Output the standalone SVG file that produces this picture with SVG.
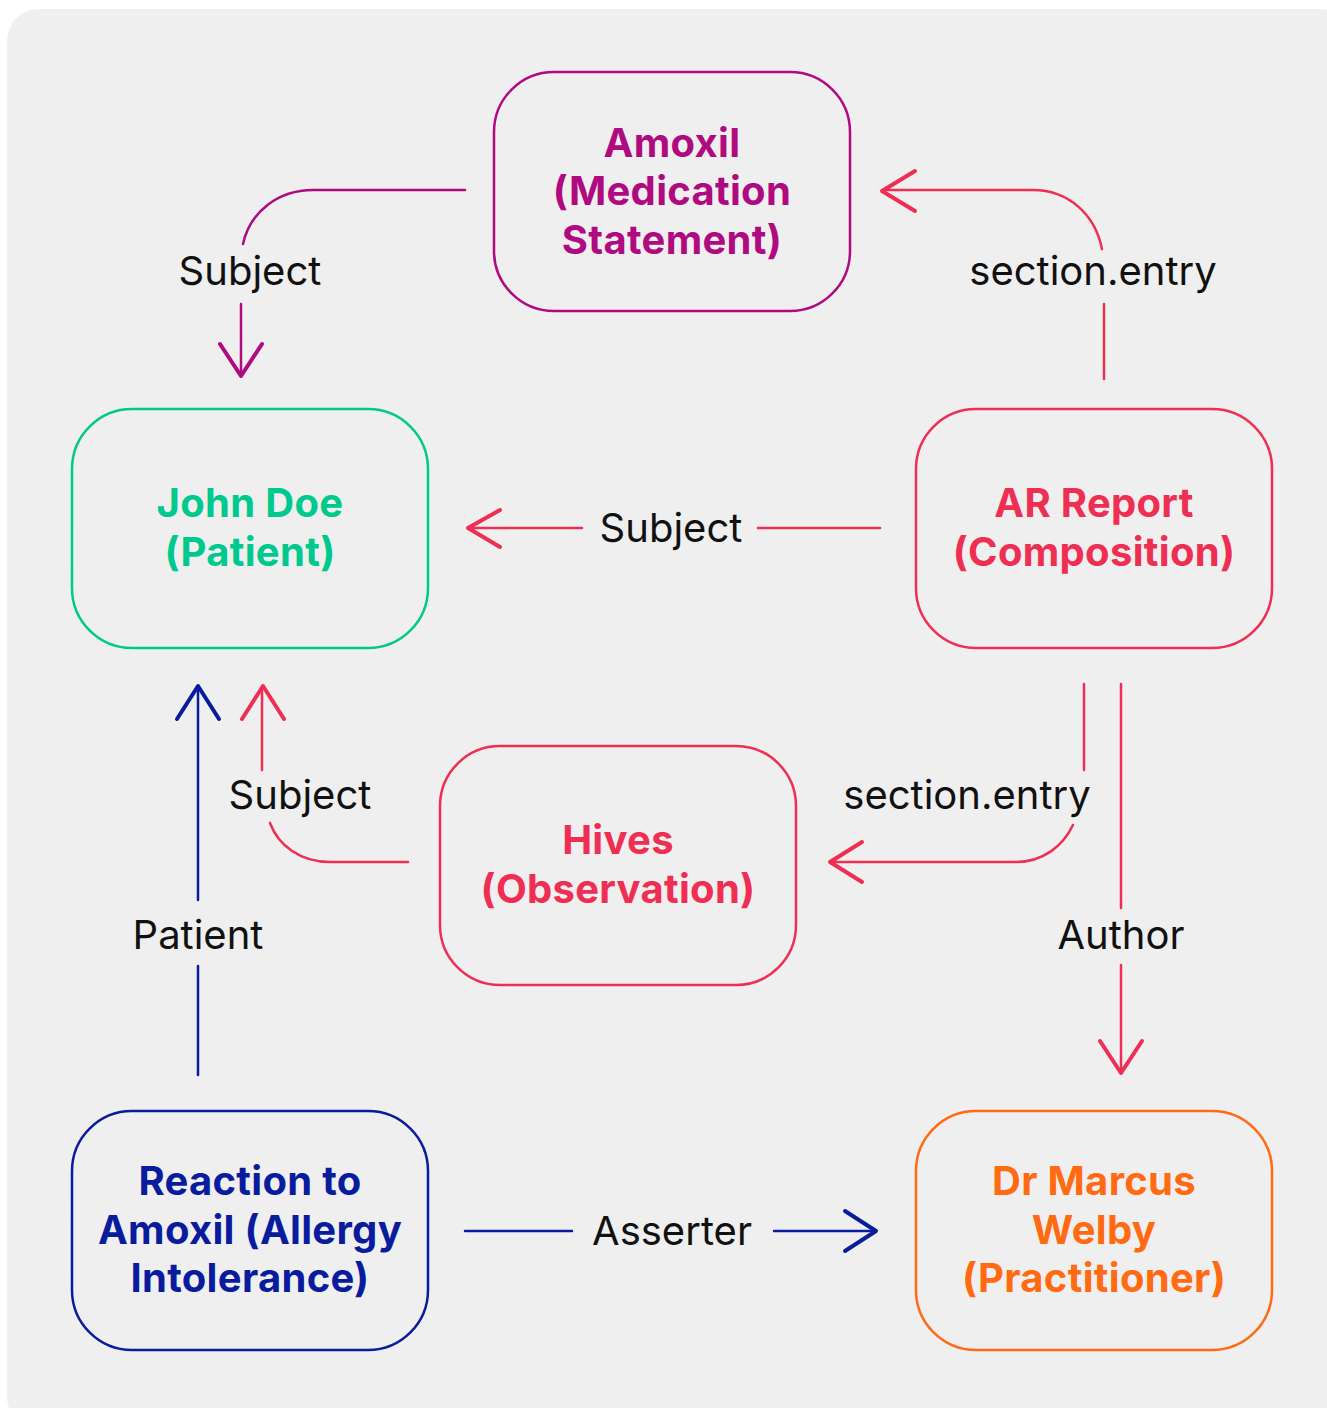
<svg xmlns="http://www.w3.org/2000/svg" width="1327" height="1408" viewBox="0 0 1327 1408">
<style>
.node{fill:none;stroke-width:2.5}
.nt{font-family:Inter,"Liberation Sans",sans-serif;font-weight:700;font-size:40px;letter-spacing:0.3px;text-anchor:middle}
.lb{font-family:Inter,"Liberation Sans",sans-serif;font-size:40px;fill:#111;text-anchor:middle}
.c{fill:none;stroke-width:2.5;stroke-linecap:round;stroke-linejoin:round}
.ah{fill:none;stroke-width:4;stroke-linecap:round;stroke-linejoin:round}
</style>
<rect x="7" y="9" width="1345" height="1420" rx="32" fill="#efefef"/>
<g id="amoxil">
<rect class="node" x="494" y="72" width="356" height="239" rx="60" stroke="#b00a80"/>
<text class="nt" fill="#b00a80"><tspan x="672" y="157">Amoxil</tspan><tspan x="672" y="205">(Medication</tspan><tspan x="672" y="254">Statement)</tspan></text>
</g>
<g id="johndoe">
<rect class="node" x="72" y="409" width="356" height="239" rx="60" stroke="#00c98d"/>
<text class="nt" fill="#00c98d"><tspan x="250" y="517">John Doe</tspan><tspan x="250" y="566">(Patient)</tspan></text>
</g>
<g id="arreport">
<rect class="node" x="916" y="409" width="356" height="239" rx="60" stroke="#ee2e52"/>
<text class="nt" fill="#ee2e52"><tspan x="1094" y="517">AR Report</tspan><tspan x="1094" y="566">(Composition)</tspan></text>
</g>
<g id="hives">
<rect class="node" x="440" y="746" width="356" height="239" rx="60" stroke="#ee2e52"/>
<text class="nt" fill="#ee2e52"><tspan x="618" y="854">Hives</tspan><tspan x="618" y="903">(Observation)</tspan></text>
</g>
<g id="reaction">
<rect class="node" x="72" y="1111" width="356" height="239" rx="60" stroke="#0a1c9e"/>
<text class="nt" fill="#0a1c9e"><tspan x="250" y="1195">Reaction to</tspan><tspan x="250" y="1244">Amoxil (Allergy</tspan><tspan x="250" y="1292">Intolerance)</tspan></text>
</g>
<g id="drmarcus">
<rect class="node" x="916" y="1111" width="356" height="239" rx="60" stroke="#ff6a13"/>
<text class="nt" fill="#ff6a13"><tspan x="1094" y="1195">Dr Marcus</tspan><tspan x="1094" y="1244">Welby</tspan><tspan x="1094" y="1292">(Practitioner)</tspan></text>
</g>
<g id="connectors">
<g stroke="#b00a80">
<path class="c" d="M465,190 H313 C278,190 250,212 243,244"/>
<path class="c" d="M241,304 V376"/>
<path class="ah" d="M220,344 L241,376 L262,344"/>
</g>
<text class="lb" x="250" y="285">Subject</text>
<g stroke="#ee2e52">
<path class="c" d="M1104,379 V304"/>
<path class="c" d="M1102,249 C1095,214 1068,190 1033,190 H883"/>
<path class="ah" d="M915,171 L882,191 L915,211"/>
</g>
<text class="lb" x="1093" y="285">section.entry</text>
<g stroke="#ee2e52">
<path class="c" d="M880,528 H758"/>
<path class="c" d="M582,528 H469"/>
<path class="ah" d="M500,510 L468,528 L500,547"/>
</g>
<text class="lb" x="671" y="542">Subject</text>
<g stroke="#ee2e52">
<path class="c" d="M1084,684 V770"/>
<path class="c" d="M1073,825 C1063,846 1043,862 1016,862 H831"/>
<path class="ah" d="M862,842 L830,862 L862,882"/>
</g>
<text class="lb" x="967" y="809">section.entry</text>
<g stroke="#ee2e52">
<path class="c" d="M1121,684 V908"/>
<path class="c" d="M1121,965 V1072"/>
<path class="ah" d="M1100,1041 L1121,1073 L1142,1041"/>
</g>
<text class="lb" x="1121" y="949">Author</text>
<g stroke="#ee2e52">
<path class="c" d="M408,862 H330 C300,862 278,845 270,823"/>
<path class="c" d="M262,770 V688"/>
<path class="ah" d="M242,719 L263,686 L284,719"/>
</g>
<text class="lb" x="300" y="809">Subject</text>
<g stroke="#0a1c9e">
<path class="c" d="M198,1075 V966"/>
<path class="c" d="M198,900 V688"/>
<path class="ah" d="M177,719 L198,686 L219,719"/>
</g>
<text class="lb" x="198" y="949">Patient</text>
<g stroke="#0a1c9e">
<path class="c" d="M465,1231 H572"/>
<path class="c" d="M774,1231 H875"/>
<path class="ah" d="M845,1211 L876,1231 L845,1251"/>
</g>
<text class="lb" x="672" y="1245">Asserter</text>
</g>
</svg>
